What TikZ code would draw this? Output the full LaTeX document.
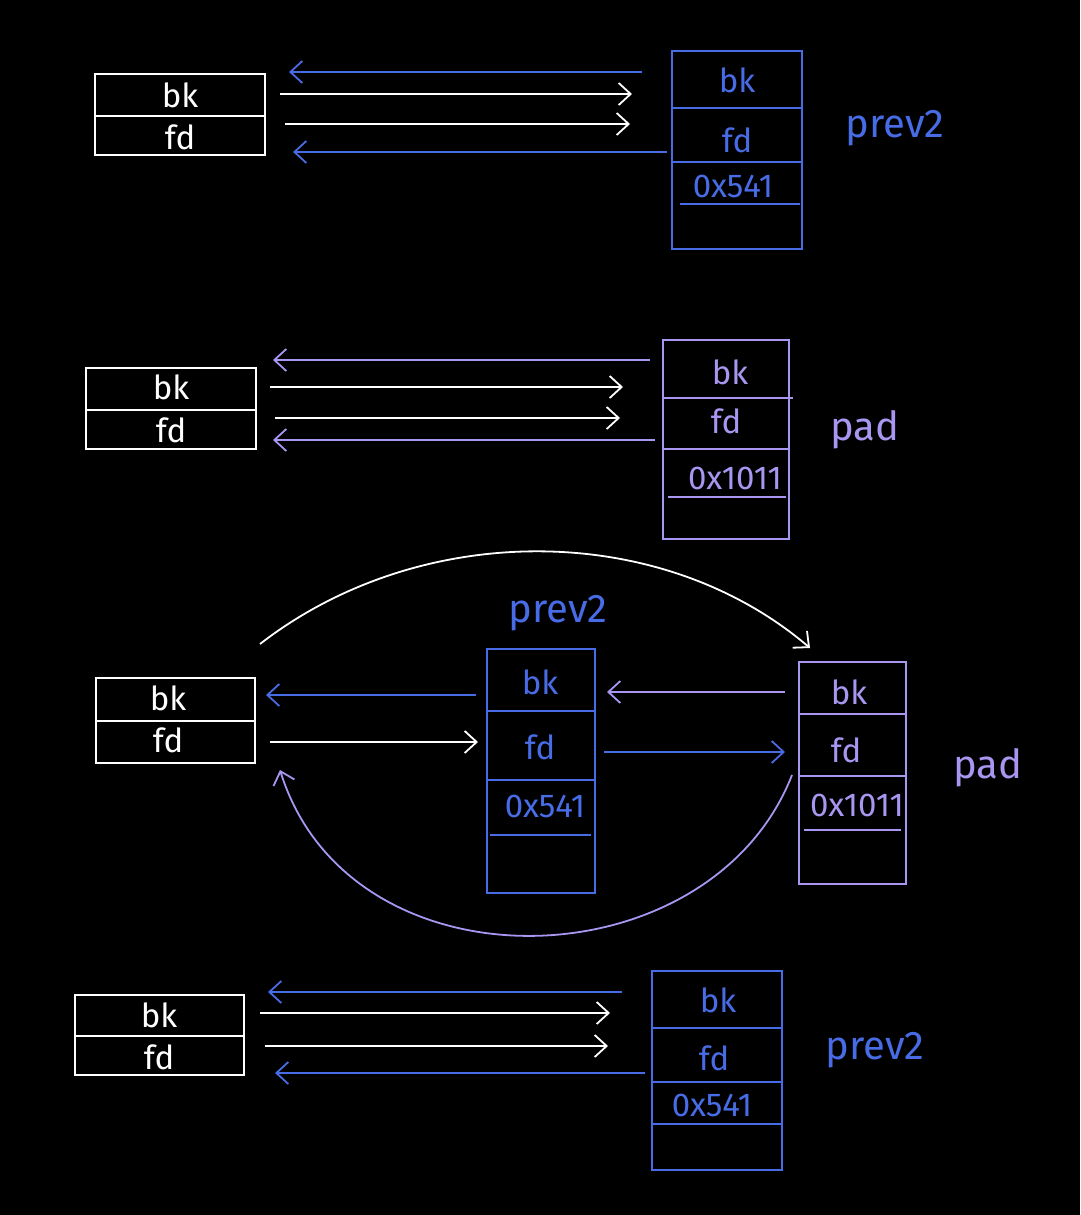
\documentclass[tikz,border=0pt]{standalone}
\usepackage{fontspec}
\setmainfont{Fira Sans}
\usetikzlibrary{arrows.meta}
\definecolor{hblue}{RGB}{72,108,230}
\definecolor{hpurple}{RGB}{168,150,240}
\begin{document}
\begin{tikzpicture}[x=1pt,y=-1pt,
  box/.style={draw, line width=1.8pt, minimum width=#1, inner sep=0pt},
  lbl/.style={font=\fontsize{33}{35}\selectfont, inner sep=0pt},
  big/.style={font=\fontsize{40}{42}\selectfont, inner sep=0pt},
  arr/.style={line width=1.8pt, -{Straight Barb[length=12pt,width=22pt,line width=1.8pt]}},
  div/.style={line width=1.8pt}]
\fill[black] (0,0) rectangle (1080,1215);
\useasboundingbox (0,0) rectangle (1080,1215);

% ---------------- Panel 1 ----------------
\node[box=170pt, minimum height=81pt, draw=white] (A1) at (180,114.5) {};
\draw[div, white] (A1.west |- 0,116) -- (A1.east |- 0,116);
\node[lbl, white] (A1bk) at (180,95) {bk};
\node[lbl, white] (A1fd) at (180,137) {fd};
\node[box=130pt, minimum height=198pt, draw=hblue] (B1) at (737,150) {};
\draw[div, hblue] (B1.west |- 0,108) -- (B1.east |- 0,108);
\draw[div, hblue] (B1.west |- 0,162) -- (B1.east |- 0,162);
\draw[div, hblue] (680,204) -- (800,204);
\node[lbl, hblue] (B1bk) at (737,80) {bk};
\node[lbl, hblue] (B1fd) at (737,140) {fd};
\node[lbl, hblue] (B1v) at (733,186) {0x541};
\node[big, hblue] (B1n) at (895,128) {prev2};
\coordinate (p1a) at (642,72);  \coordinate (p1b) at (289,72);
\coordinate (p1c) at (280,94);  \coordinate (p1d) at (632,94);
\coordinate (p1e) at (285,124); \coordinate (p1f) at (630,124);
\coordinate (p1g) at (667,152); \coordinate (p1h) at (293,152);
\draw[arr, hblue] (p1a) -- (p1b);
\draw[arr, white] (p1c) -- (p1d);
\draw[arr, white] (p1e) -- (p1f);
\draw[arr, hblue] (p1g) -- (p1h);

% ---------------- Panel 2 ----------------
\node[box=170pt, minimum height=81pt, draw=white] (A2) at (171,408.5) {};
\draw[div, white] (A2.west |- 0,410) -- (A2.east |- 0,410);
\node[lbl, white] (A2bk) at (171,387) {bk};
\node[lbl, white] (A2fd) at (171,430) {fd};
\node[box=126pt, minimum height=199pt, draw=hpurple] (B2) at (726,439.5) {};
\draw[div, hpurple] (B2.west |- 0,398) -- (793,398);
\draw[div, hpurple] (B2.west |- 0,449) -- (B2.east |- 0,449);
\draw[div, hpurple] (668,497) -- (786,497);
\node[lbl, hpurple] (B2bk) at (730,372) {bk};
\node[lbl, hpurple] (B2fd) at (726,421) {fd};
\node[lbl, hpurple] (B2v) at (735,478) {0x1011};
\node[big, hpurple] (B2n) at (865,430) {pad};
\coordinate (p2a) at (650,360); \coordinate (p2b) at (273,360);
\coordinate (p2c) at (270,387); \coordinate (p2d) at (623,387);
\coordinate (p2e) at (275,418); \coordinate (p2f) at (620,418);
\coordinate (p2g) at (655,440); \coordinate (p2h) at (273,440);
\draw[arr, hpurple] (p2a) -- (p2b);
\draw[arr, white] (p2c) -- (p2d);
\draw[arr, white] (p2e) -- (p2f);
\draw[arr, hpurple] (p2g) -- (p2h);

% ---------------- Panel 3 ----------------
\node[box=159pt, minimum height=85pt, draw=white] (A3) at (175.5,720.5) {};
\draw[div, white] (A3.west |- 0,721) -- (A3.east |- 0,721);
\node[lbl, white] (A3bk) at (168,698) {bk};
\node[lbl, white] (A3fd) at (168,740) {fd};

\node[box=108pt, minimum height=244pt, draw=hblue] (M3) at (541,771) {};
\draw[div, hblue] (M3.west |- 0,711) -- (M3.east |- 0,711);
\draw[div, hblue] (M3.west |- 0,780) -- (M3.east |- 0,780);
\draw[div, hblue] (490,835) -- (591,835);
\node[lbl, hblue] (M3bk) at (540,682) {bk};
\node[lbl, hblue] (M3fd) at (540,747) {fd};
\node[lbl, hblue] (M3v) at (545,806) {0x541};
\node[big, hblue] (M3n) at (558,613) {prev2};

\node[box=107pt, minimum height=222pt, draw=hpurple] (R3) at (852.5,773) {};
\draw[div, hpurple] (R3.west |- 0,714) -- (R3.east |- 0,714);
\draw[div, hpurple] (R3.west |- 0,776) -- (R3.east |- 0,776);
\draw[div, hpurple] (804,830) -- (901,830);
\node[lbl, hpurple] (R3bk) at (849,692) {bk};
\node[lbl, hpurple] (R3fd) at (846,750) {fd};
\node[lbl, hpurple] (R3v) at (857,805) {0x1011};
\node[big, hpurple] (R3n) at (988,768) {pad};

\coordinate (p3a) at (476,695); \coordinate (p3b) at (266,695);
\coordinate (p3c) at (270,742); \coordinate (p3d) at (478,742);
\coordinate (p3e) at (785,692); \coordinate (p3f) at (607,692);
\coordinate (p3g) at (604,752); \coordinate (p3h) at (785,752);
\draw[arr, hblue] (p3a) -- (p3b);
\draw[arr, white] (p3c) -- (p3d);
\draw[arr, hpurple] (p3e) -- (p3f);
\draw[arr, hblue] (p3g) -- (p3h);

\coordinate (c1s) at (260,644); \coordinate (c1e) at (810,648);
\draw[arr, white] (c1s) .. controls (420,520) and (660,520) .. (c1e);
\coordinate (c2s) at (792,775); \coordinate (c2e) at (280,770);
\draw[arr, hpurple] (c2s) .. controls (710,985) and (350,995) .. (c2e);

% ---------------- Panel 4 ----------------
\node[box=169pt, minimum height=80pt, draw=white] (A4) at (159.5,1035) {};
\draw[div, white] (A4.west |- 0,1036) -- (A4.east |- 0,1036);
\node[lbl, white] (A4bk) at (159,1015) {bk};
\node[lbl, white] (A4fd) at (159,1057) {fd};
\node[box=130pt, minimum height=199pt, draw=hblue] (B4) at (717,1070.5) {};
\draw[div, hblue] (B4.west |- 0,1028) -- (B4.east |- 0,1028);
\draw[div, hblue] (B4.west |- 0,1082) -- (B4.east |- 0,1082);
\draw[div, hblue] (B4.west |- 0,1124) -- (B4.east |- 0,1124);
\node[lbl, hblue] (B4bk) at (718,1000) {bk};
\node[lbl, hblue] (B4fd) at (714,1058) {fd};
\node[lbl, hblue] (B4v) at (712,1105) {0x541};
\node[big, hblue] (B4n) at (875,1050) {prev2};
\coordinate (p4a) at (622,992);  \coordinate (p4b) at (268,992);
\coordinate (p4c) at (260,1013); \coordinate (p4d) at (610,1013);
\coordinate (p4e) at (265,1046); \coordinate (p4f) at (608,1046);
\coordinate (p4g) at (645,1073); \coordinate (p4h) at (275,1073);
\draw[arr, hblue] (p4a) -- (p4b);
\draw[arr, white] (p4c) -- (p4d);
\draw[arr, white] (p4e) -- (p4f);
\draw[arr, hblue] (p4g) -- (p4h);
\end{tikzpicture}
\end{document}
